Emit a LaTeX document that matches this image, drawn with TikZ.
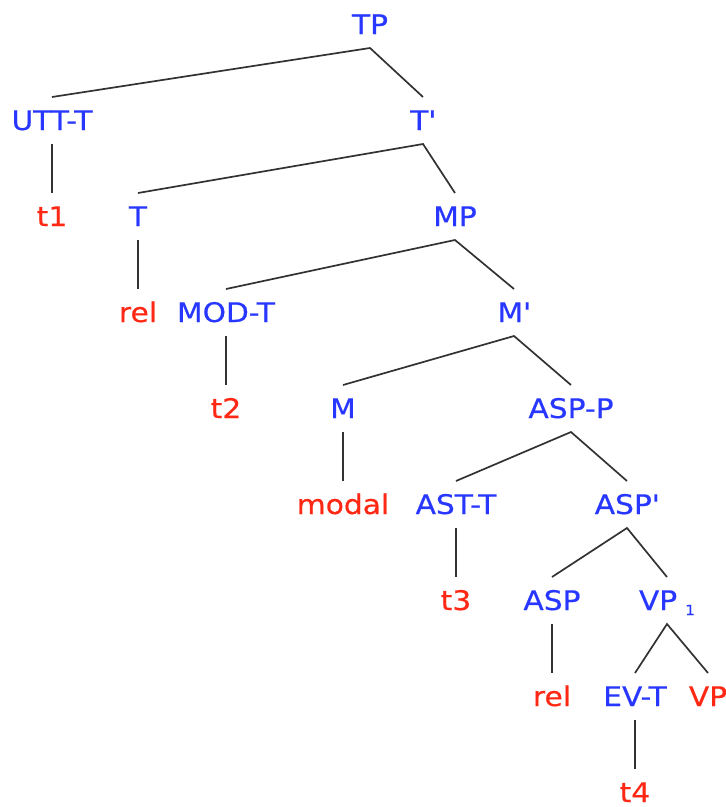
\documentclass[tikz,border=0pt]{standalone}
\usepackage{fontspec}
\setmainfont{DejaVu Sans}[FakeStretch=1.1,FakeBold=0.5]
\definecolor{nblue}{RGB}{40,55,255}
\definecolor{nred}{RGB}{255,40,20}
\definecolor{edge}{RGB}{50,50,50}
\tikzset{
  tn/.style={anchor=base, inner sep=0pt, outer sep=0pt, text height=33pt, text depth=14pt, font=\fontsize{27}{30}\selectfont},
  cat/.style={tn, text=nblue},
  leaf/.style={tn, text=nred},
  br/.style={draw=edge, line width=1.7pt}
}
\begin{document}
\begin{tikzpicture}[x=1pt,y=-1pt]
\useasboundingbox (0,0) rectangle (726,807);
\node[cat] (tp) at (370,34) {TP};
\node[cat] (utt) at (52,130) {UTT-T};
\node[cat] (tbar) at (423,130) {T\textquotesingle};
\node[leaf] (t1) at (52,226) {t1};
\node[cat] (t) at (138,226) {T};
\node[cat] (mp) at (455,226) {MP};
\node[leaf] (rel1) at (138,322) {rel};
\node[cat] (modt) at (226,322) {MOD-T};
\node[cat] (mbar) at (514,322) {M\textquotesingle};
\node[leaf] (t2) at (226,418) {t2};
\node[cat] (m) at (343,418) {M};
\node[cat] (aspp) at (571,418) {ASP-P};
\node[leaf] (modal) at (343,514) {modal};
\node[cat] (astt) at (456,514) {AST-T};
\node[cat] (aspbar) at (627,514) {ASP\textquotesingle};
\node[leaf] (t3) at (456,610) {t3};
\node[cat] (asp) at (552,610) {ASP};
\node[cat] (vp1) at (667,610) {VP\hspace{8pt}\raisebox{-5pt}{\fontsize{14}{14}\selectfont 1}};
\node[leaf] (rel2) at (552,706) {rel};
\node[cat] (evt) at (635,706) {EV-T};
\node[leaf] (vp) at (708,706) {VP};
\node[leaf] (t4) at (635,802) {t4};
\draw[br] (utt.north) -- (tp.south) -- (tbar.north);
\draw[br] (utt.south) -- (t1.north);
\draw[br] (t.north) -- (tbar.south) -- (mp.north);
\draw[br] (t.south) -- (rel1.north);
\draw[br] (modt.north) -- (mp.south) -- (mbar.north);
\draw[br] (modt.south) -- (t2.north);
\draw[br] (m.north) -- (mbar.south) -- (aspp.north);
\draw[br] (m.south) -- (modal.north);
\draw[br] (astt.north) -- (aspp.south) -- (aspbar.north);
\draw[br] (astt.south) -- (t3.north);
\draw[br] (asp.north) -- (aspbar.south) -- (vp1.north);
\draw[br] (asp.south) -- (rel2.north);
\draw[br] (evt.north) -- (vp1.south) -- (vp.north);
\draw[br] (evt.south) -- (t4.north);
\end{tikzpicture}
\end{document}
